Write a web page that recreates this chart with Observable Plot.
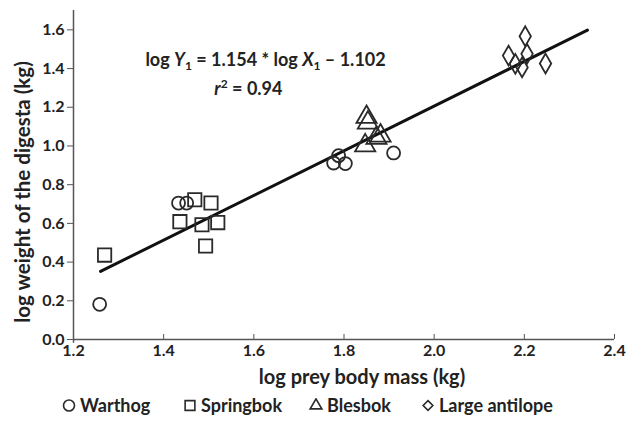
<!DOCTYPE html>
<html><head><meta charset="utf-8">
<script src="https://cdn.jsdelivr.net/npm/d3@7"></script>
<script src="https://cdn.jsdelivr.net/npm/@observablehq/plot@0.6"></script>
<style>
body{margin:0;background:#fff;font-family:Lato,"Open Sans",sans-serif;color:#222;}
#legend{position:relative;height:38px;font-weight:bold;font-size:18px;}
.item{position:absolute;top:2px;display:flex;align-items:center;gap:4px;}
</style></head><body><div id="chart"></div><div id="legend"></div>
<script>
// ---- data ----
const seriesNames = ["Warthog", "Springbok", "Blesbok", "Large antilope"];
const warthogX = [1.258, 1.433, 1.451, 1.777, 1.803, 1.788, 1.910];
const warthogY = [0.182, 0.705, 0.705, 0.912, 0.909, 0.950, 0.964];
const springbokX = [1.269, 1.436, 1.469, 1.505, 1.485, 1.520, 1.493];
const springbokY = [0.436, 0.609, 0.722, 0.705, 0.593, 0.604, 0.483];
const blesbokX = [1.850, 1.853, 1.847, 1.872, 1.881];
const blesbokY = [1.149, 1.120, 1.002, 1.041, 1.053];
const antilopeX = [2.202, 2.165, 2.206, 2.180, 2.195, 2.247];
const antilopeY = [1.567, 1.467, 1.476, 1.424, 1.406, 1.426];
const slope = 1.154, intercept = -1.102, r2 = 0.94;
const lineX = [1.26, 2.34];
const xTicks = [1.2, 1.4, 1.6, 1.8, 2.0, 2.2, 2.4];
const yTicks = [0.0, 0.2, 0.4, 0.6, 0.8, 1.0, 1.2, 1.4, 1.6];
const xTitle = "log prey body mass (kg)";
const yTitle = "log weight of the digesta (kg)";

const allX = [warthogX, springbokX, blesbokX, antilopeX];
const allY = [warthogY, springbokY, blesbokY, antilopeY];
const points = allX.flatMap((xs, s) => xs.map((x, i) => ({x, y: allY[s][i], series: seriesNames[s]})));
const fitLine = lineX.map(x => ({x, y: slope * x + intercept}));

const ink = "#222";
const dotStyle = {stroke: "#2a2a2a", strokeWidth: 1.8, fill: "none"};
const font = "Lato, 'Open Sans', sans-serif";
const plot = Plot.plot({
  width: 630, height: 392,
  marginLeft: 73, marginRight: 16, marginTop: 10, marginBottom: 53,
  style: {fontFamily: font, fontWeight: "bold", fontSize: "16px", color: ink, background: "#fff"},
  x: {domain: [1.2, 2.4]},
  y: {domain: [0, 1.7]},
  marks: [
    Plot.ruleY([0], {stroke: "#555", strokeWidth: 1.5}),
    Plot.ruleX([1.2], {y1: -0.02, y2: 1.7, stroke: "#555", strokeWidth: 1.5}),
    Plot.axisX({ticks: xTicks, tickFormat: d3.format(".1f"), tickSize: -5, stroke: "#555", tickPadding: 10, fontSize: 16, label: null}),
    Plot.axisY({ticks: yTicks, tickFormat: d3.format(".1f"), tickSize: 6, stroke: "#555", tickPadding: 3, fontSize: 16, label: null}),
    Plot.text([xTitle], {frameAnchor: "bottom", textAnchor: "middle", dx: 18, dy: 44, fontSize: 20, fontWeight: "bold", fill: ink}),
    Plot.text([yTitle], {frameAnchor: "left", textAnchor: "middle", dx: -50, dy: 17, rotate: -90, fontSize: 20.5, fontWeight: "bold", fill: ink}),
    Plot.line(fitLine, {x: "x", y: "y", stroke: "#111", strokeWidth: 3}),
    Plot.dot(points.filter(d => d.series === "Warthog"), {x: "x", y: "y", symbol: "circle", r: 6.5, ...dotStyle}),
    Plot.dot(points.filter(d => d.series === "Springbok"), {x: "x", y: "y", symbol: "square", r: 7.5, ...dotStyle}),
    Plot.dot(points.filter(d => d.series === "Blesbok"), {x: "x", y: "y", symbol: "triangle", r: 7.5, ...dotStyle}),
    Plot.dot(points.filter(d => d.series === "Large antilope"), {x: "x", y: "y", symbol: "diamond", r: 6, ...dotStyle}),
    Plot.text([0], {x: () => 1.626, y: () => 1.441, text: () => "EQ", fontSize: 18, fontWeight: "bold", fill: ink, className: "eq"}),
    Plot.text([0], {x: () => 1.588, y: () => 1.291, text: () => "R2", fontSize: 18, fontWeight: "bold", fill: ink, className: "r2"})
  ]
});
document.getElementById("chart").append(plot);

// rich text for the equation
const eq = d3.select(plot).select("g.eq text").text(null);
eq.append("tspan").text("log ");
eq.append("tspan").attr("font-style", "italic").text("Y");
eq.append("tspan").attr("font-size", 12).attr("dy", 4).text("1");
eq.append("tspan").attr("dy", -4).text(` = ${slope.toFixed(3)} * log `);
eq.append("tspan").attr("font-style", "italic").text("X");
eq.append("tspan").attr("font-size", 12).attr("dy", 4).text("1");
eq.append("tspan").attr("dy", -4).text(` \u2013 ${Math.abs(intercept).toFixed(3)}`);
const rr = d3.select(plot).select("g.r2 text").text(null);
rr.append("tspan").attr("font-style", "italic").text("r");
rr.append("tspan").attr("font-size", 12).attr("dy", -7).text("2");
rr.append("tspan").attr("dy", 7).text(` = ${r2.toFixed(2)}`);

// legend
const legendX = [62, 183, 309, 421];
const legendSymbols = [d3.symbolCircle, d3.symbolSquare, d3.symbolTriangle2, d3.symbolDiamond2];
const leg = d3.select("#legend");
seriesNames.forEach((name, i) => {
  const item = leg.append("div").attr("class", "item").style("left", legendX[i] + "px");
  const svg = item.append("svg").attr("width", 14).attr("height", 14);
  svg.append("path")
    .attr("transform", "translate(7,7.5)")
    .attr("d", d3.symbol(legendSymbols[i], i === 3 ? 60 : 95)())
    .attr("fill", "none").attr("stroke", "#2a2a2a").attr("stroke-width", 1.6);
  item.append("span").text(name);
});
</script></body></html>
